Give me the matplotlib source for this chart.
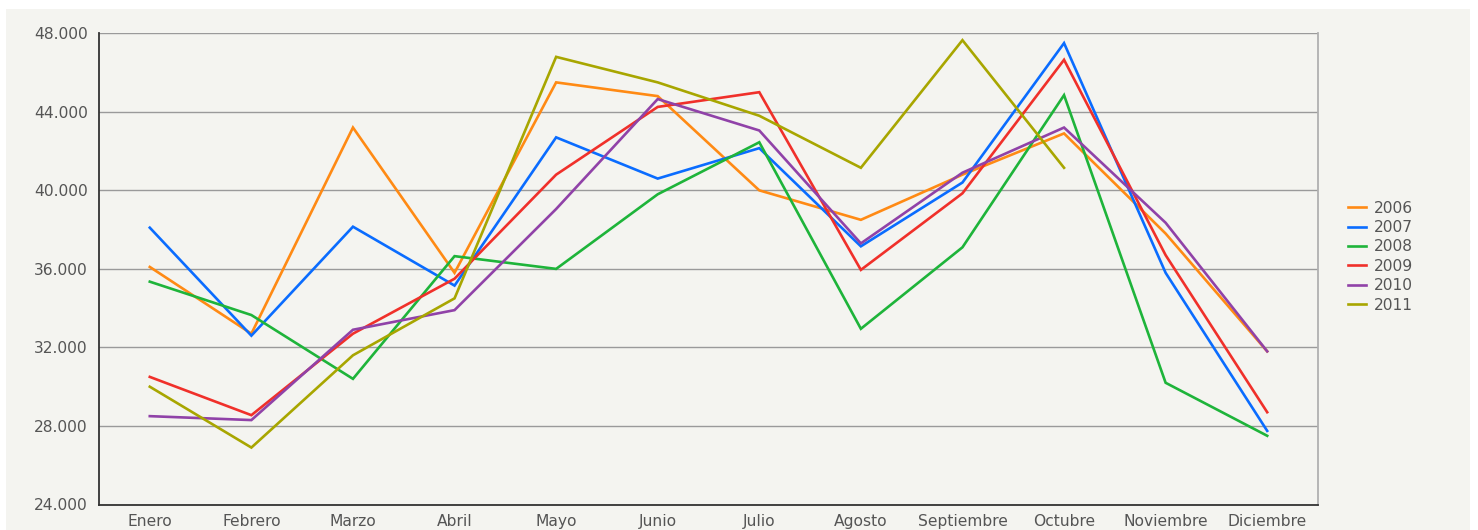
import numpy as np
import matplotlib
matplotlib.use('Agg')
import matplotlib.pyplot as plt
from matplotlib.patches import Rectangle
from matplotlib.ticker import FuncFormatter

meses = ['Enero', 'Febrero', 'Marzo', 'Abril', 'Mayo', 'Junio', 'Julio',
         'Agosto', 'Septiembre', 'Octubre', 'Noviembre', 'Diciembre']

v2006 = [36100, 32700, 43200, 35800, 45500, 44800, 40000, 38500, 40800, 42900, 37800, 31800]
v2007 = [38100, 32600, 38150, 35150, 42700, 40600, 42150, 37150, 40400, 47500, 35800, 27750]
v2008 = [35350, 33650, 30400, 36650, 36000, 39800, 42450, 32950, 37100, 44850, 30200, 27500]
v2009 = [30500, 28550, 32700, 35500, 40800, 44250, 45000, 35950, 39850, 46650, 36700, 28700]
v2010 = [28500, 28300, 32900, 33900, 39050, 44650, 43050, 37300, 40900, 43200, 38350, 31800]
v2011 = [30000, 26900, 31600, 34500, 46800, 45500, 43800, 41150, 47650, 41150]

series = [('2006', v2006, '#ff8a14'),
          ('2007', v2007, '#0a6cff'),
          ('2008', v2008, '#1eb43a'),
          ('2009', v2009, '#f0302a'),
          ('2010', v2010, '#9042a8'),
          ('2011', v2011, '#a8a600')]

bg = '#f4f4f0'
txt = '#555555'
fs = 11.2

fig = plt.figure(figsize=(14.78, 5.30), dpi=100, facecolor='white')
fig.patches.append(Rectangle((6/1478, 0), 1464/1478, 1 - 9/530, transform=fig.transFigure,
                             facecolor=bg, edgecolor='none', zorder=-10))

ax = fig.add_axes([99/1478, 1 - 504.5/530, 1219/1478, (504.5 - 33.3)/530])
ax.set_facecolor(bg)

for name, vals, col in series:
    ax.plot(np.arange(len(vals)), vals, color=col, lw=1.9, label=name,
            solid_joinstyle='miter', zorder=3)

ax.set_xlim(-0.5, 11.5)
ax.set_ylim(24000, 48000)
ax.set_yticks(np.arange(24000, 48001, 4000))
ax.yaxis.set_major_formatter(FuncFormatter(lambda v, p: f'{int(v):,}'.replace(',', '.')))
ax.set_xticks(np.arange(12))
ax.set_xticklabels(meses)
ax.tick_params(length=0, labelsize=fs, labelcolor=txt)
ax.tick_params(axis='x', pad=7)
ax.tick_params(axis='y', pad=8)
ax.grid(axis='y', color='#9a9a9a', lw=1)
ax.set_axisbelow(True)

ax.spines['top'].set_visible(False)
ax.spines['left'].set_color('#333333')
ax.spines['bottom'].set_color('#333333')
ax.spines['left'].set_linewidth(1.3)
ax.spines['bottom'].set_linewidth(1.3)
ax.spines['right'].set_color('#b0b0b0')
ax.spines['right'].set_linewidth(1.3)

leg = ax.legend(loc='upper left', bbox_to_anchor=(1340/1478, 1 - 193/530),
                bbox_transform=fig.transFigure, frameon=False, fontsize=fs,
                handlelength=1.2, handletextpad=0.5, labelspacing=0.28,
                borderpad=0)
for t in leg.get_texts():
    t.set_color(txt)

fig.savefig('out.png', dpi=100, facecolor=fig.get_facecolor())
